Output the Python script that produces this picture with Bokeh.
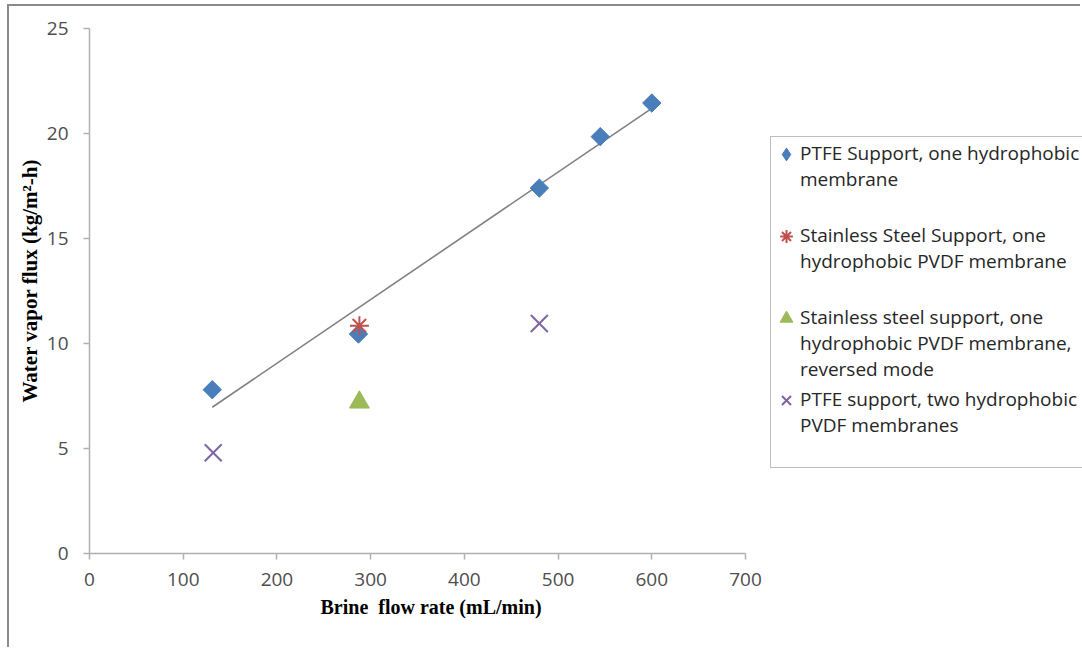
import numpy as np
from bokeh.plotting import figure
from bokeh.models import Range1d, FixedTicker, Legend, LegendItem, Title
from bokeh.embed import file_html
from bokeh.resources import INLINE

# ---- data ----
ptfe1_x = [131, 287, 480, 545, 600]
ptfe1_y = [7.8, 10.45, 17.4, 19.85, 21.45]
ss1_x = [288]
ss1_y = [10.85]
ssrev_x = [288]
ssrev_y = [7.2]
ptfe2_x = [132, 480]
ptfe2_y = [4.8, 10.95]
x_ticks = [0, 100, 200, 300, 400, 500, 600, 700]
y_ticks = [0, 5, 10, 15, 20, 25]
x_title = "Brine\u00a0 flow rate (mL/min)"
y_title = "Water vapor flux (kg/m\u00b2-h)"
labels = [
    "PTFE Support, one hydrophobic\nmembrane\n ",
    "Stainless Steel Support, one\nhydrophobic PVDF membrane\n ",
    "Stainless steel support, one\nhydrophobic PVDF membrane,\nreversed mode",
    "PTFE support, two hydrophobic\nPVDF membranes\n ",
]

BLUE = "#4a7ebb"
RED = "#c0504d"
GREEN = "#9bbb59"
PURPLE = "#8064a2"
TICK_FONT = "Open Sans"

# layout (pixels)
W, H = 1073, 643
LEFT, TOP, BOTTOM = 80, 22, 96
AXIS_W = 656                      # pixel length of the 0..700 x axis
FRAME_W = W - LEFT
X_MAX = 700
x_end = X_MAX * FRAME_W / AXIS_W  # frame extends right to hold the legend

p = figure(width=W, height=H, output_backend="svg", toolbar_location=None,
           x_range=Range1d(0, x_end), y_range=Range1d(0, 25),
           min_border_left=LEFT, min_border_right=0, min_border_top=TOP, min_border_bottom=BOTTOM)
p.margin = (4, 0, 0, 7)
p.styles = {"border-top": "2px solid #8a8a8a", "border-left": "2px solid #8a8a8a"}
p.outline_line_color = None
p.xgrid.visible = False
p.ygrid.visible = False
p.background_fill_color = "white"
p.border_fill_color = "white"

for ax in (p.xaxis[0], p.yaxis[0]):
    ax.axis_line_color = "#b0b0b0"
    ax.axis_line_width = 1.5
    ax.major_tick_line_color = "#b0b0b0"
    ax.major_tick_line_width = 1.5
    ax.major_tick_out = 6
    ax.major_tick_in = 0
    ax.minor_tick_line_color = None
    ax.major_label_text_font = TICK_FONT
    ax.major_label_text_font_size = "19px"
    ax.major_label_text_color = "#4d4d4d"

p.xaxis.bounds = (0, X_MAX)
p.xaxis.ticker = FixedTicker(ticks=x_ticks)
p.yaxis.ticker = FixedTicker(ticks=y_ticks)
p.xaxis.major_label_standoff = 13
p.yaxis.major_label_standoff = 15

# axis titles as Title annotations (so they can be placed like the original)
tx_title = Title(text=x_title, align="left", offset=231, standoff=11,
                 text_font="Liberation Serif", text_font_style="bold",
                 text_font_size="20px", text_color="black")
p.add_layout(tx_title, "below")
ty_title = Title(text=y_title, align="left", offset=151, standoff=4,
                 text_font="Liberation Serif", text_font_style="bold",
                 text_font_size="21px", text_color="black")
p.add_layout(ty_title, "left")

# trend line (linear fit of PTFE one-membrane series)
slope, intercept = np.polyfit(ptfe1_x, ptfe1_y, 1)
tx = [min(ptfe1_x), max(ptfe1_x)]
ty = [slope * v + intercept for v in tx]
p.line(tx, ty, line_color="#808080", line_width=1.6)

# diamond used for the legend key (hidden underneath the plotted markers)
r1l = p.scatter(ptfe1_x, ptfe1_y, marker="diamond", size=10, fill_color=BLUE, line_color=BLUE)
r1 = p.scatter(ptfe1_x, ptfe1_y, marker="square", angle=np.pi / 4, size=13,
               fill_color=BLUE, line_color=BLUE)
r2 = p.scatter(ss1_x, ss1_y, marker="asterisk", size=19, line_color=RED, line_width=2)
r3 = p.scatter(ssrev_x, ssrev_y, marker="triangle", size=20, fill_color=GREEN, line_color=GREEN)
r4 = p.scatter(ptfe2_x, ptfe2_y, marker="x", size=24, line_color=PURPLE, line_width=2)
r_none = p.scatter(x=[], y=[], marker="circle", size=1)

# text legend (box + labels)
legend_t = Legend(items=[LegendItem(label=lab, renderers=[r_none]) for lab in labels],
                  location=(681, 85))
legend_t.border_line_color = "#808080"
legend_t.border_line_width = 1.5
legend_t.background_fill_color = "white"
legend_t.padding = 3
legend_t.margin = 0
legend_t.spacing = 4
legend_t.glyph_width = 26
legend_t.glyph_height = 20
legend_t.label_standoff = 0
legend_t.label_text_font = TICK_FONT
legend_t.label_text_font_size = "19px"
legend_t.label_text_color = "#262626"
p.add_layout(legend_t)

# glyph legend (keys aligned with the first line of each label)
legend_g = Legend(items=[
    LegendItem(label=" ", renderers=[r1l]),
    LegendItem(label=" ", renderers=[r2]),
    LegendItem(label=" ", renderers=[r3]),
    LegendItem(label=" ", renderers=[r4]),
], location=(681, 137))
legend_g.border_line_color = None
legend_g.background_fill_alpha = 0
legend_g.padding = 0
legend_g.margin = 0
legend_g.spacing = 50
legend_g.glyph_width = 32
legend_g.glyph_height = 32
legend_g.label_text_font_size = "8px"
p.add_layout(legend_g)

open("out.html", "w").write(file_html(p, INLINE))
